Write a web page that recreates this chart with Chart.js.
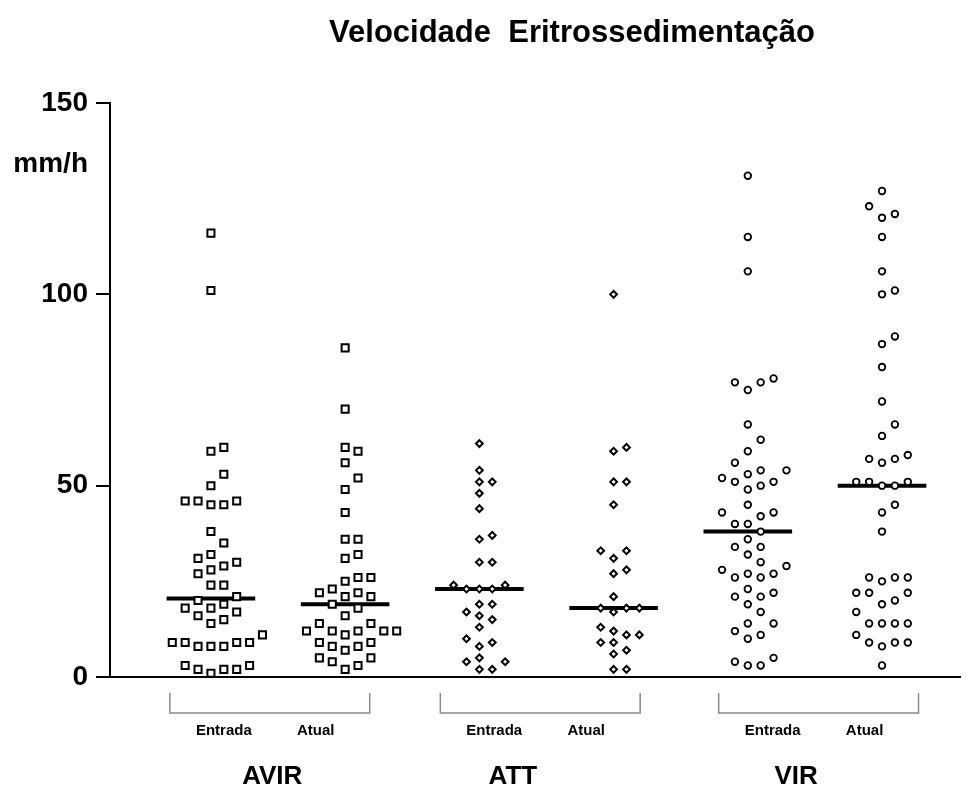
<!DOCTYPE html>
<html>
<head>
<meta charset="utf-8">
<title>Velocidade Eritrossedimentação</title>
<script src="https://cdn.jsdelivr.net/npm/chart.js@4.4.0/dist/chart.umd.min.js"></script>
<style>
  html, body { margin: 0; padding: 0; background: #fff; }
  #wrap { width: 967px; height: 789px; position: relative; }
</style>
</head>
<body>
<div id="wrap"><canvas id="vhs"></canvas></div>
<script>
// VHS (mm/h) per group, at entry and now
const groups = ['AVIR', 'ATT', 'VIR'];
const phases = ['Entrada', 'Atual'];
const yTicks = [0, 50, 100, 150];

const avirEntrada = [116, 101, 60, 59, 53, 50, 46, 46, 46, 45, 45, 38, 35, 32, 31, 30, 29, 28, 27, 24, 24, 21,
  20, 19, 18, 18, 17, 16, 15, 14, 11, 9, 9, 9, 9, 8, 8, 8, 3, 3, 2, 2, 2, 1];
const avirAtual = [86, 70, 60, 59, 56, 52, 49, 43, 36, 36, 32, 31, 26, 26, 25, 23, 22, 22, 21, 21, 19, 18,
  16, 14, 14, 12, 12, 12, 12, 12, 11, 9, 9, 8, 8, 7, 5, 5, 4, 3, 2];
const attEntrada = [61, 54, 51, 51, 48, 44, 37, 36, 30, 30, 24, 24, 23, 23, 23, 19, 19, 17, 16, 15, 13, 10,
  9, 8, 5, 4, 4, 2, 2];
const attAtual = [100, 60, 59, 51, 51, 45, 33, 33, 31, 28, 27, 21, 18, 18, 18, 17, 13, 12, 11, 11, 9, 9, 7, 6, 2, 2];
const virEntrada = [131, 115, 106, 78, 77, 77, 75, 66, 62, 59, 56, 54, 54, 53, 52, 51, 51, 50, 49, 45, 43, 43,
  42, 40, 40, 38, 36, 34, 34, 32, 30, 29, 28, 27, 27, 26, 26, 23, 22, 21, 21, 19, 17, 14, 14, 12, 11, 10, 5, 4, 3, 3];
const virAtual = [127, 123, 121, 120, 115, 106, 101, 100, 89, 87, 81, 72, 66, 63, 58, 57, 57, 56, 51, 51, 51, 50,
  50, 45, 43, 38, 26, 26, 26, 25, 22, 22, 22, 20, 19, 17, 14, 14, 14, 14, 11, 9, 9, 9, 8, 3];

const medians = [20.5, 19, 23, 18, 38, 50];

const series = [avirEntrada, avirAtual, attEntrada, attAtual, virEntrada, virAtual];
const FONT = '"Liberation Sans", Arial, sans-serif';

// marker look per group; gap = minimum distance (mm/h) between two marks in one column
const markers = [
  { style: 'rect', radius: 5, border: 2, gap: 3.6 },
  { style: 'rectRot', radius: 3.4, border: 2, gap: 3.0 },
  { style: 'circle', radius: 3.3, border: 1.8, gap: 3.2 }
];
const COL = 0.096;     // column step of the swarm, in x units
const HALF = 0.33;     // half width of the median bar

// bracket spans under each group, x units
const brackets = [[0.694, 2.183], [2.709, 4.198], [4.783, 6.272]];
const groupLabelX = [1.457, 3.25, 5.36];

// simple dot-plot layout: each value takes the column nearest the centre that is free
function swarm(values, centre, gap) {
  const placed = [];
  return values.slice().sort((a, b) => a - b).map(v => {
    let k = 0;
    for (let i = 0; i < 40; i++) {
      k = i === 0 ? 0 : (i % 2 ? (i + 1) / 2 : -i / 2);
      if (!placed.some(p => p.k === k && Math.abs(p.v - v) < gap)) break;
    }
    placed.push({ k, v });
    return { x: centre + k * COL, y: v };
  });
}

const datasets = [];
series.forEach((vals, i) => {
  const m = markers[Math.floor(i / 2)];
  const centre = i + 1;
  datasets.push({
    type: 'line',
    data: [{ x: centre - HALF, y: medians[i] }, { x: centre + HALF, y: medians[i] }],
    borderColor: '#000',
    borderWidth: 4,
    pointRadius: 0,
    order: 2
  });
  datasets.push({
    type: 'scatter',
    data: swarm(vals, centre, m.gap),
    pointStyle: m.style,
    pointRadius: m.radius,
    pointHoverRadius: m.radius,
    pointBorderWidth: m.border,
    borderColor: '#000',
    backgroundColor: '#fff',
    clip: false,
    order: 1
  });
});

const labelsPlugin = {
  id: 'labels',
  afterDraw(chart) {
    const { ctx } = chart;
    const x = chart.scales.x;
    const y = chart.scales.y;
    ctx.save();
    ctx.fillStyle = '#000';
    ctx.textBaseline = 'middle';

    ctx.textAlign = 'center';
    ctx.font = 'bold 31px ' + FONT;
    ctx.fillText('Velocidade  Eritrossedimentação', 572, 33);

    ctx.textAlign = 'right';
    ctx.font = 'bold 28px ' + FONT;
    ctx.fillText('mm/h', 88, y.getPixelForValue(134));

    brackets.forEach(([a, b], g) => {
      const l = x.getPixelForValue(a);
      const r = x.getPixelForValue(b);
      ctx.strokeStyle = '#8a8a8a';
      ctx.lineWidth = 1.5;
      ctx.beginPath();
      ctx.moveTo(l, 693);
      ctx.lineTo(l, 713);
      ctx.lineTo(r, 713);
      ctx.lineTo(r, 693);
      ctx.stroke();

      ctx.textAlign = 'center';
      ctx.font = 'bold 15px ' + FONT;
      ctx.fillText(phases[0], l + (r - l) * 0.27, 731);
      ctx.fillText(phases[1], l + (r - l) * 0.73, 731);

      ctx.font = 'bold 26px ' + FONT;
      ctx.fillText(groups[g], x.getPixelForValue(groupLabelX[g]), 777);
    });
    ctx.restore();
  }
};

new Chart(document.getElementById('vhs'), {
  type: 'scatter',
  data: { datasets },
  options: {
    responsive: true,
    maintainAspectRatio: false,
    animation: false,
    layout: { padding: { top: 103, right: 2, left: 0, bottom: 0 } },
    plugins: { legend: { display: false }, tooltip: { enabled: false } },
    scales: {
      x: {
        type: 'linear',
        min: 0.248,
        max: 6.581,
        ticks: { display: false },
        grid: { display: false },
        border: { display: true, color: '#000', width: 2 },
        afterFit: s => { s.height = 112; }
      },
      y: {
        min: 0,
        max: 150,
        afterBuildTicks: s => { s.ticks = yTicks.map(v => ({ value: v })); },
        ticks: { color: '#000', padding: 8, font: { family: FONT, size: 28, weight: 'bold' } },
        grid: { drawOnChartArea: false, drawTicks: true, tickLength: 14, color: '#000', lineWidth: 2 },
        border: { display: true, color: '#000', width: 2 },
        afterFit: s => { s.width = 110; }
      }
    }
  },
  plugins: [labelsPlugin]
});
</script>
</body>
</html>
